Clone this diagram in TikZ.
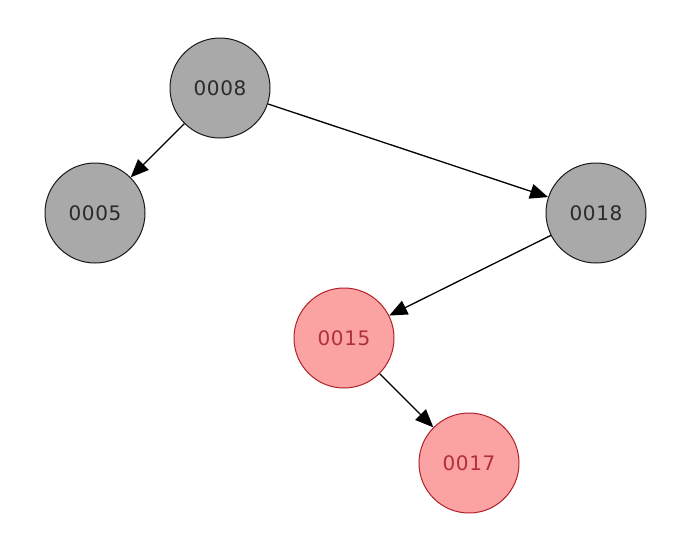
\documentclass[tikz,border=0pt]{standalone}
\usepackage{fontspec}
\setmainfont{DejaVu Sans}[LetterSpace=3]
\usetikzlibrary{arrows.meta}
\definecolor{graynode}{HTML}{A9A9A9}
\definecolor{redfill}{HTML}{FBA3A3}
\definecolor{redline}{HTML}{B0202A}
\definecolor{redtext}{HTML}{B0303A}
\definecolor{graytext}{HTML}{2A2A2A}
\tikzset{
  treenode/.style={circle, minimum size=100pt, inner sep=0pt, line width=1pt,
    font=\fontsize{20}{24}\selectfont},
  blacknode/.style={treenode, draw=black!90, fill=graynode, text=graytext},
  rednode/.style={treenode, draw=redline, fill=redfill, text=redtext},
  treeedge/.style={draw=black, line width=1.3pt, -{Triangle[length=18pt,width=15pt]}}
}
\begin{document}
\begin{tikzpicture}[x=1pt,y=-1pt]
\useasboundingbox (0,0) rectangle (674,544);
\node[blacknode] (n8) at (220,88) {0008};
\node[blacknode] (n5) at (95,213) {0005};
\node[blacknode] (n18) at (596,213) {0018};
\node[rednode] (n15) at (344,338) {0015};
\node[rednode] (n17) at (469,463) {0017};
\draw[treeedge] (n8) -- (n5);
\draw[treeedge] (n8) -- (n18);
\draw[treeedge] (n18) -- (n15);
\draw[treeedge] (n15) -- (n17);
\end{tikzpicture}
\end{document}
